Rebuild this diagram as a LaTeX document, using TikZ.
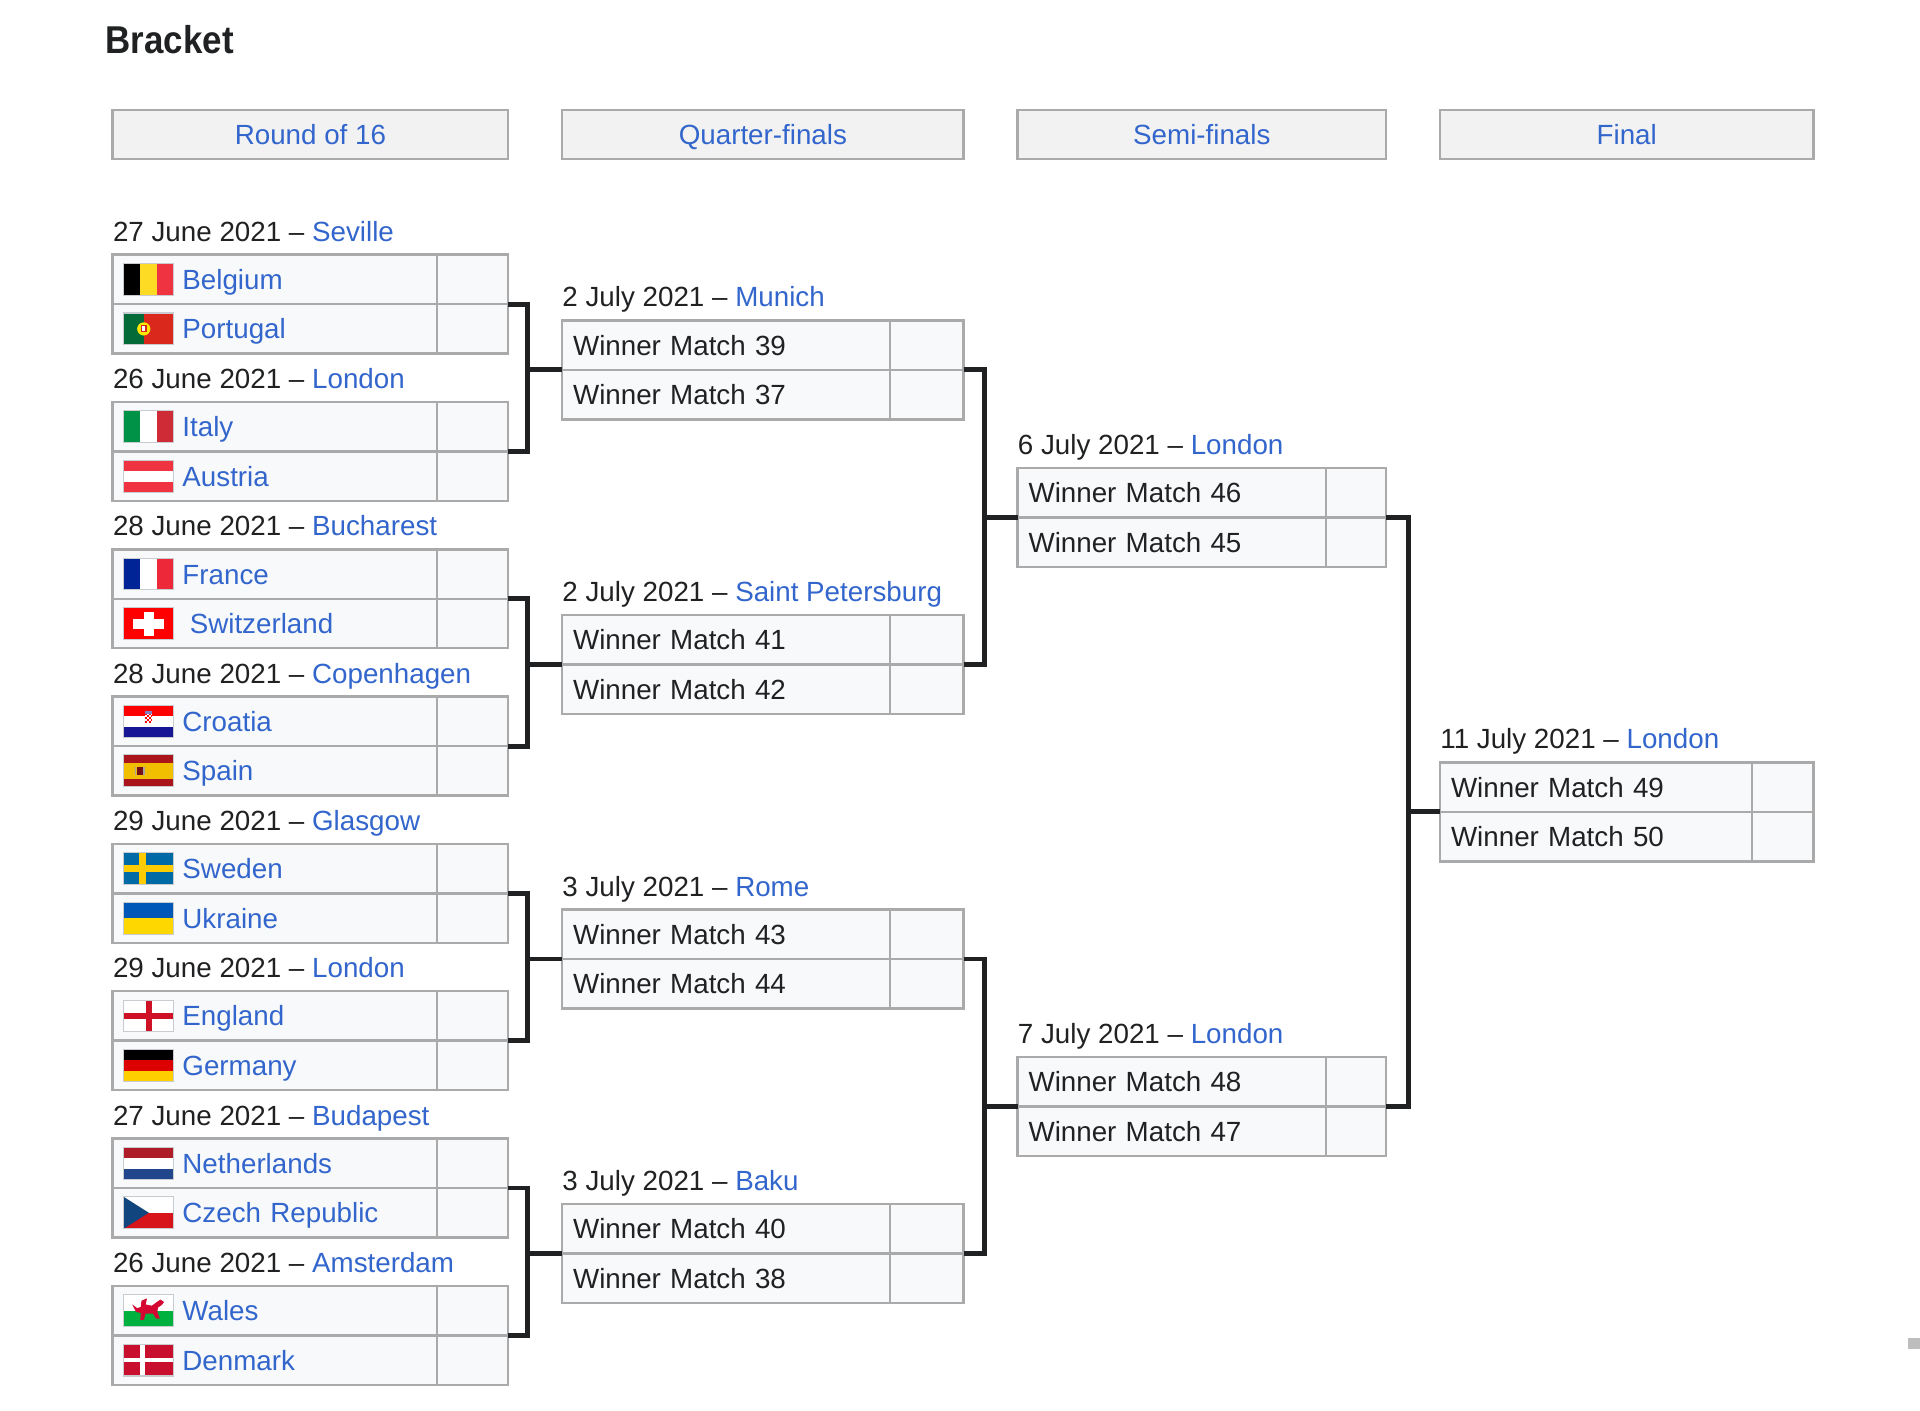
\documentclass[tikz,border=0pt]{standalone}
\usepackage{fontspec}
\setmainfont{Liberation Sans}
\newfontfamily\titlefont[FakeStretch=0.9]{Liberation Sans}

\definecolor{ink}{HTML}{202122}
\definecolor{link}{HTML}{3366CC}
\definecolor{cellline}{HTML}{AAAAAA}
\definecolor{cellbg}{HTML}{F8F9FA}
\definecolor{headline}{HTML}{AAAAAA}
\definecolor{headbg}{HTML}{F2F2F2}
\definecolor{flagline}{HTML}{C8CCD1}
\definecolor{scrollgrey}{HTML}{BDBDBD}

\definecolor{belyellow}{HTML}{FDDA24}
\definecolor{belred}{HTML}{EF3340}
\definecolor{porgreen}{HTML}{046A38}
\definecolor{porred}{HTML}{DA291C}
\definecolor{poryellow}{HTML}{FFE900}
\definecolor{itagreen}{HTML}{009246}
\definecolor{itared}{HTML}{CE2B37}
\definecolor{autred}{HTML}{EF3340}
\definecolor{frablue}{HTML}{002395}
\definecolor{frared}{HTML}{ED2939}
\definecolor{suired}{HTML}{FF0000}
\definecolor{crored}{HTML}{FF0000}
\definecolor{croblue}{HTML}{171796}
\definecolor{espred}{HTML}{AA151B}
\definecolor{espyellow}{HTML}{F1BF00}
\definecolor{sweblue}{HTML}{006AA7}
\definecolor{sweyellow}{HTML}{FECC00}
\definecolor{ukrblue}{HTML}{0057B7}
\definecolor{ukryellow}{HTML}{FFD700}
\definecolor{engred}{HTML}{CE1124}
\definecolor{gerred}{HTML}{DD0000}
\definecolor{gergold}{HTML}{FFCE00}
\definecolor{nedred}{HTML}{AE1C28}
\definecolor{nedblue}{HTML}{21468B}
\definecolor{czeblue}{HTML}{11457E}
\definecolor{czered}{HTML}{D7141A}
\definecolor{walgreen}{HTML}{00B140}
\definecolor{walred}{HTML}{D30731}
\definecolor{denred}{HTML}{C8102E}

\newcommand\venue[1]{{\color{link}#1}}

\newcommand\flBEL{\fill[black] (0,0) rectangle (13.67,26); \fill[belyellow] (13.67,0) rectangle (27.33,26); \fill[belred] (27.33,0) rectangle (41,26);}
\newcommand\flPOR{\fill[porgreen] (0,0) rectangle (16.4,26); \fill[porred] (16.4,0) rectangle (41,26);
  \fill[poryellow] (16.4,13) circle (5.4); \fill[porred] (14,9.6) rectangle (18.8,15.8); \fill[white] (15,10.8) rectangle (17.8,14.6);}
\newcommand\flITA{\fill[itagreen] (0,0) rectangle (13.67,26); \fill[white] (13.67,0) rectangle (27.33,26); \fill[itared] (27.33,0) rectangle (41,26);}
\newcommand\flAUT{\fill[autred] (0,0) rectangle (41,8.67); \fill[white] (0,8.67) rectangle (41,17.33); \fill[autred] (0,17.33) rectangle (41,26);}
\newcommand\flFRA{\fill[frablue] (0,0) rectangle (13.67,26); \fill[white] (13.67,0) rectangle (27.33,26); \fill[frared] (27.33,0) rectangle (41,26);}
\newcommand\flSUI{\fill[suired] (0,0) rectangle (41,26); \fill[white] (8,8.9) rectangle (33,17.1); \fill[white] (16.35,3.2) rectangle (24.65,22.8);}
\newcommand\flCRO{\fill[crored] (0,0) rectangle (41,8.67); \fill[white] (0,8.67) rectangle (41,17.33); \fill[croblue] (0,17.33) rectangle (41,26);
  \fill[croblue!55] (17.5,4.6) rectangle (23.5,6.6); \fill[white] (17.5,6.6) rectangle (23.5,14.6);
  \foreach \i in {0,...,3}{\foreach \j in {0,...,4}{\pgfmathtruncatemacro\odd{mod(\i+\j,2)}\ifnum\odd=0 \fill[crored] (17.5+1.5*\i,6.6+1.6*\j) rectangle ++(1.5,1.6);\fi}}}
\newcommand\flESP{\fill[espred] (0,0) rectangle (41,6.5); \fill[espyellow] (0,6.5) rectangle (41,19.5); \fill[espred] (0,19.5) rectangle (41,26);
  \fill[espred!70!black] (11,10) rectangle (15.5,16); \fill[gray!70] (9.3,10) rectangle (10.4,16); \fill[gray!70] (16.1,10) rectangle (17.2,16);}
\newcommand\flSWE{\fill[sweblue] (0,0) rectangle (41,26); \fill[sweyellow] (12.8,0) rectangle (17.9,26); \fill[sweyellow] (0,10.4) rectangle (41,15.6);}
\newcommand\flUKR{\fill[ukrblue] (0,0) rectangle (41,13); \fill[ukryellow] (0,13) rectangle (41,26);}
\newcommand\flENG{\fill[white] (0,0) rectangle (41,26); \fill[engred] (18.2,0) rectangle (22.8,26); \fill[engred] (0,10.7) rectangle (41,15.3);}
\newcommand\flGER{\fill[black] (0,0) rectangle (41,8.67); \fill[gerred] (0,8.67) rectangle (41,17.33); \fill[gergold] (0,17.33) rectangle (41,26);}
\newcommand\flNED{\fill[nedred] (0,0) rectangle (41,8.67); \fill[white] (0,8.67) rectangle (41,17.33); \fill[nedblue] (0,17.33) rectangle (41,26);}
\newcommand\flCZE{\fill[white] (0,0) rectangle (41,13); \fill[czered] (0,13) rectangle (41,26); \fill[czeblue] (0,0) -- (20.5,13) -- (0,26) -- cycle;}
\newcommand\flWAL{\fill[white] (0,0) rectangle (41,13); \fill[walgreen] (0,13) rectangle (41,26);
  \fill[walred] (7,8) -- (11,11) -- (14,10) -- (14.5,5) -- (19,3) -- (18,8) -- (23,9) -- (27,6) -- (30,4) -- (33,6) -- (31,8.5) -- (28,10.5)
    -- (27.5,14) -- (29.5,19.5) -- (26.5,19.5) -- (24,15.5) -- (18,15.5) -- (16.5,20.5) -- (13.5,20.5) -- (14,15) -- (10,14) -- cycle;}
\newcommand\flDEN{\fill[denred] (0,0) rectangle (41,26); \fill[white] (13.3,0) rectangle (17.7,26); \fill[white] (0,11.1) rectangle (41,14.9);}

\tikzset{
  cell/.style={draw=cellline, fill=cellbg, line width=1.2pt, anchor=north west, inner sep=0pt, outer sep=0pt,
    minimum height=24.24pt, text height=9.8pt, text depth=0pt},
  team/.style={cell, text width=#1, align=left, text=link, execute at begin node={\hspace*{34.2pt}}},
  winner/.style={cell, text width=#1, align=left, text=ink, execute at begin node={\hspace*{5.4pt}}},
  score/.style={cell, minimum width=#1},
  header/.style={draw=headline, fill=headbg, line width=1.2pt, anchor=north west, inner sep=0pt, outer sep=0pt,
    minimum height=24pt, minimum width=#1, text height=9.8pt, text depth=0pt, text=link},
  date/.style={anchor=base west, inner sep=0pt, text=ink},
  title/.style={anchor=base west, inner sep=0pt, text=ink, font=\titlefont\fontsize{19}{22}\selectfont\bfseries},
  wire/.style={draw=ink, line width=2.4pt},
  flagframe/.style={draw=flagline, line width=0.5pt},
  pics/flag/.style={code={\csname fl#1\endcsname \path[flagframe] (0,0) rectangle (41,26);}}
}

\begin{document}
\begin{tikzpicture}[x=0.6pt,y=-0.6pt,font=\fontsize{13.6}{16}\selectfont]
\useasboundingbox (0,0) rectangle (1568,1151.5);
\fill[white] (0,0) rectangle (1568,1151.5);

\node[title] (ttl) at (86,44) {Bracket};

\node[header=193.8pt] (hd1) at (92,90) {Round of 16};
\node[header=196.8pt] (hd2) at (459,90) {Quarter-finals};
\node[header=180.6pt] (hd3) at (831,90) {Semi-finals};
\node[header=183pt] (hd4) at (1176,90) {Final};

\foreach \k/\when/\city/\teama/\flaga/\teamb/\flagb in {
  0/27 June 2021/Seville/Belgium/BEL/Portugal/POR,
  1/26 June 2021/London/Italy/ITA/Austria/AUT,
  2/28 June 2021/Bucharest/France/FRA/{\hspace{3.6pt}Switzerland}/SUI,
  3/28 June 2021/Copenhagen/Croatia/CRO/Spain/ESP,
  4/29 June 2021/Glasgow/Sweden/SWE/Ukraine/UKR,
  5/29 June 2021/London/England/ENG/Germany/GER,
  6/27 June 2021/Budapest/Netherlands/NED/Czech Republic/CZE,
  7/26 June 2021/Amsterdam/Wales/WAL/Denmark/DEN}
{
  \pgfmathsetmacro\rowy{208+120.3*\k}
  \node[date] (rd\k) at (92,\rowy-11) {\when\ \textendash\ \venue{\city}};
  \node[team=159pt] (ra\k) at (92,\rowy) {\teama};
  \node[score=34.8pt] (sa\k) at (ra\k.north east) {};
  \node[team=159pt] (rb\k) at (ra\k.south west) {\teamb};
  \node[score=34.8pt] (sb\k) at (rb\k.north east) {};
  \pic at ([xshift=5.4pt,yshift=7.8pt]ra\k.west) {flag=\flaga};
  \pic at ([xshift=5.4pt,yshift=7.8pt]rb\k.west) {flag=\flagb};
}

\foreach \j/\when/\city/\wa/\wb in {
  0/2 July 2021/Munich/39/37,
  1/2 July 2021/Saint Petersburg/41/42,
  2/3 July 2021/Rome/43/44,
  3/3 July 2021/Baku/40/38}
{
  \pgfmathsetmacro\rowy{261.6+240.6*\j}
  \node[date] (qd\j) at (459,\rowy-11) {\when\ \textendash\ \venue{\city}};
  \node[winner=160.8pt] (qa\j) at (459,\rowy) {Winner Match \wa};
  \node[score=36pt] (qsa\j) at (qa\j.north east) {};
  \node[winner=160.8pt] (qb\j) at (qa\j.south west) {Winner Match \wb};
  \node[score=36pt] (qsb\j) at (qb\j.north east) {};
}

\foreach \i/\when/\wa/\wb in {0/6 July 2021/46/45, 1/7 July 2021/48/47}
{
  \pgfmathsetmacro\rowy{382.1+481.2*\i}
  \node[date] (sd\i) at (831,\rowy-11) {\when\ \textendash\ \venue{London}};
  \node[winner=151.2pt] (sfa\i) at (831,\rowy) {Winner Match \wa};
  \node[score=29.4pt] (sfsa\i) at (sfa\i.north east) {};
  \node[winner=151.2pt] (sfb\i) at (sfa\i.south west) {Winner Match \wb};
  \node[score=29.4pt] (sfsb\i) at (sfb\i.north east) {};
}

\node[date] (fd) at (1176,611.6) {11 July 2021 \textendash\ \venue{London}};
\node[winner=153pt] (fna) at (1176,622.6) {Winner Match 49};
\node[score=30pt] (fnsa) at (fna.north east) {};
\node[winner=153pt] (fnb) at (fna.south west) {Winner Match 50};
\node[score=30pt] (fnsb) at (fnb.north east) {};

\foreach \k/\n/\j in {0/1/0, 2/3/1, 4/5/2, 6/7/3}
{
  \draw[wire] (sa\k.south east) -- ++(16,0) coordinate (jr\k) |- (sa\n.south east);
  \draw[wire] (qa\j.south west) -- (qa\j.south west -| jr\k);
}
\foreach \k/\n/\j in {0/1/0, 2/3/1}
{
  \draw[wire] (qsa\k.south east) -- ++(17,0) coordinate (jq\k) |- (qsa\n.south east);
  \draw[wire] (sfa\j.south west) -- (sfa\j.south west -| jq\k);
}
\draw[wire] (sfsa0.south east) -- ++(18,0) coordinate (js0) |- (sfsa1.south east);
\draw[wire] (fna.south west) -- (fna.south west -| js0);

\fill[scrollgrey] (1558,1093) rectangle (1568,1102);
\end{tikzpicture}
\end{document}
